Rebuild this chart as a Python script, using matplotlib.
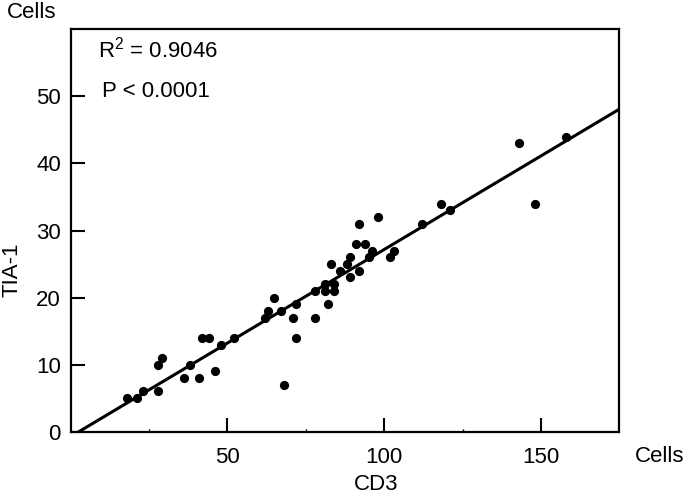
import matplotlib
matplotlib.use('Agg')
import matplotlib.pyplot as plt
from matplotlib.ticker import FixedLocator

plt.rcParams['font.family'] = ['Liberation Sans', 'DejaVu Sans']
plt.rcParams['mathtext.fontset'] = 'custom'
plt.rcParams['mathtext.rm'] = 'Liberation Sans'
plt.rcParams['mathtext.it'] = 'Liberation Sans'

# CD3 vs TIA-1 cell counts
cd3 = [18, 21, 23, 28, 28, 29, 36, 38, 41, 42, 44, 46, 48, 52,
       62, 63, 65, 67, 68, 71, 72, 72, 78, 78, 82, 81, 81, 84, 84,
       83, 86, 89, 88, 89, 92, 91, 94, 92, 98, 96, 95, 103, 102,
       112, 118, 121, 143, 148, 158]
tia1 = [5, 5, 6, 6, 10, 11, 8, 10, 8, 14, 14, 9, 13, 14,
        17, 18, 20, 18, 7, 17, 14, 19, 21, 17, 19, 22, 21, 22, 21,
        25, 24, 23, 25, 26, 24, 28, 28, 31, 32, 27, 26, 27, 26,
        31, 34, 33, 43, 34, 44]

slope = 0.279
intercept = -0.73
r2_text = 'R$^2$ = 0.9046'
p_text = 'P < 0.0001'

x_ticks = [50, 100, 150]
x_minor = [25, 75, 125]
y_ticks = [0, 10, 20, 30, 40, 50]

fig = plt.figure(figsize=(6.85, 4.97), dpi=100)
ax = fig.add_axes([0.1032, 0.1314, 0.8009, 0.8096])

ax.scatter(cd3, tia1, s=44, color='black', zorder=3, linewidths=0)
ax.axline((0, intercept), slope=slope, color='black', linewidth=2.2, zorder=2)

ax.set_xlim(0, 175)
ax.set_ylim(0, 60)
ax.xaxis.set_major_locator(FixedLocator(x_ticks))
ax.xaxis.set_minor_locator(FixedLocator(x_minor))
ax.yaxis.set_major_locator(FixedLocator(y_ticks))

ax.tick_params(axis='both', which='major', direction='in', length=10, width=1.5,
               labelsize=16, color='black')
ax.tick_params(axis='x', which='major', pad=11)
ax.tick_params(axis='y', which='major', pad=7)
ax.tick_params(axis='x', which='minor', direction='in', length=2, width=1)
ax.tick_params(axis='y', which='minor', left=False)

for spine in ax.spines.values():
    spine.set_linewidth(1.6)
    spine.set_color('black')

ax.text(0.05, 0.95, r2_text, transform=ax.transAxes, fontsize=16,
        ha='left', va='center')
ax.text(0.057, 0.845, p_text, transform=ax.transAxes, fontsize=16,
        ha='left', va='center')

fig.text(7 / 685, 1 - 13 / 497, 'Cells', fontsize=16, ha='left', va='center')
fig.text(660 / 685, 1 - 456 / 497, 'Cells', fontsize=16, ha='center', va='center')
fig.text(376 / 685, 1 - 485 / 497, 'CD3', fontsize=16, ha='center', va='center')
fig.text(12 / 685, 1 - 270 / 497, 'TIA-1', fontsize=16, ha='center', va='center',
         rotation=90)

fig.savefig('out.png', dpi=100)
